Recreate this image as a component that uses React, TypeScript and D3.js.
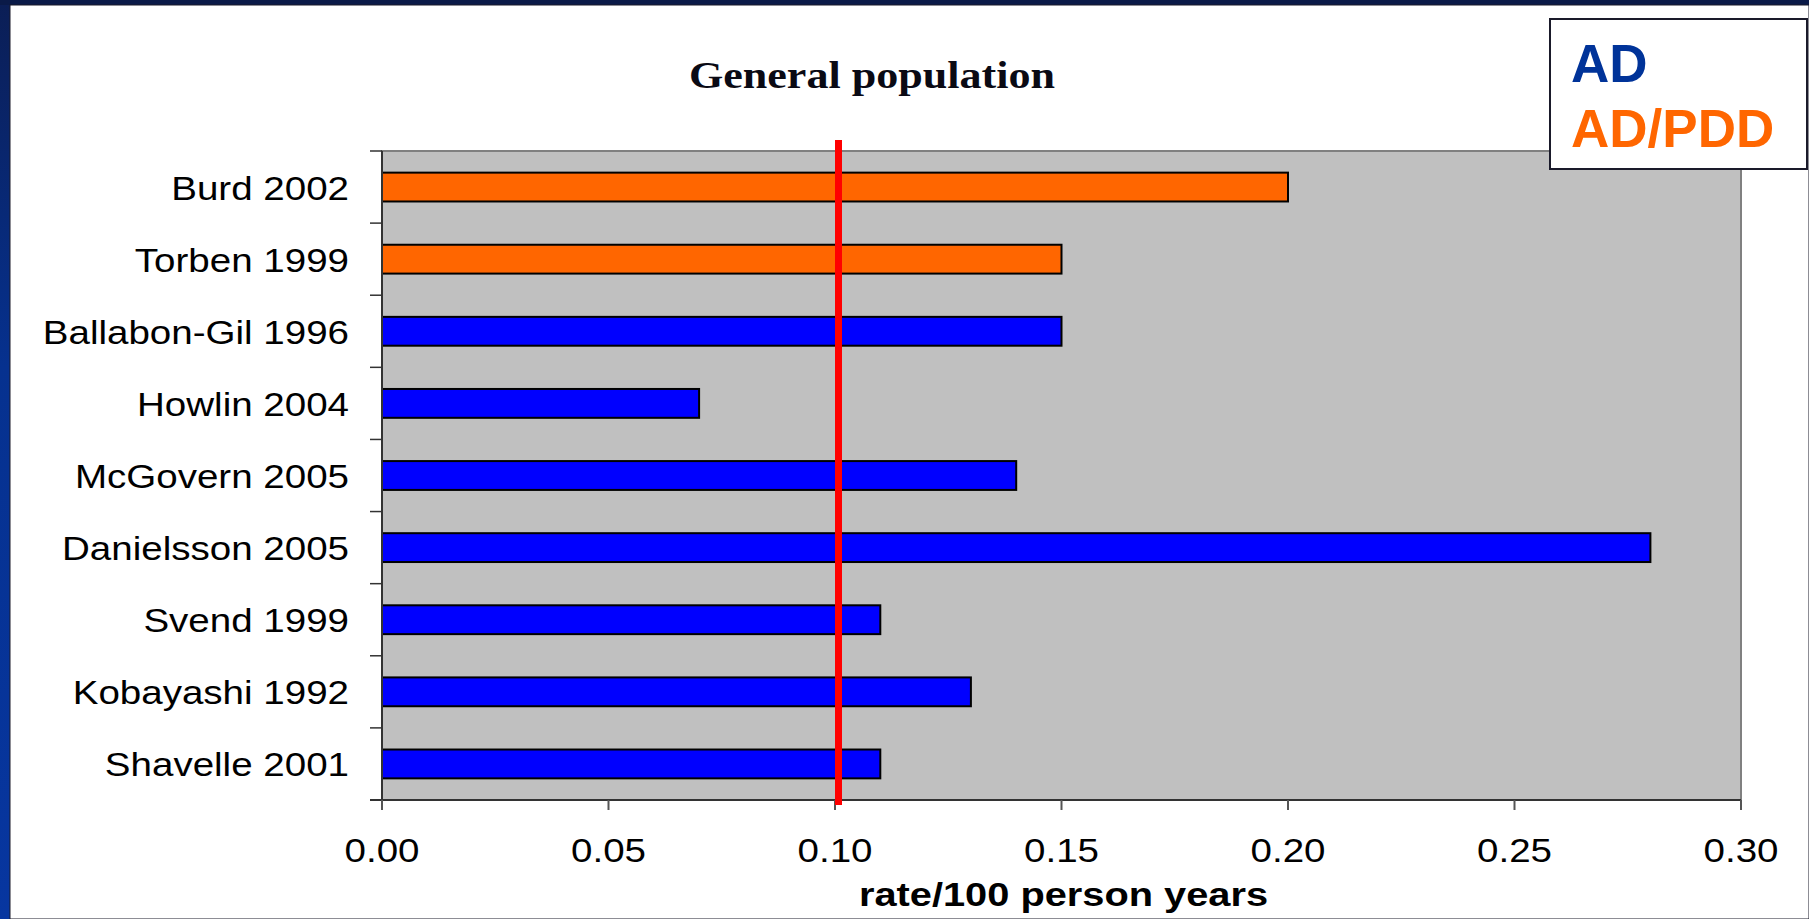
import React, { useEffect, useRef } from "react";
import * as d3 from "d3";

// Studies, top to bottom
const studies = [
  "Burd 2002",
  "Torben 1999",
  "Ballabon-Gil 1996",
  "Howlin 2004",
  "McGovern 2005",
  "Danielsson 2005",
  "Svend 1999",
  "Kobayashi 1992",
  "Shavelle 2001",
];
// rate per 100 person years
const rates = [0.2, 0.15, 0.15, 0.07, 0.14, 0.28, 0.11, 0.13, 0.11];
// diagnostic group of each study
const groups = ["AD/PDD", "AD/PDD", "AD", "AD", "AD", "AD", "AD", "AD", "AD"];
const xTicks = [0, 0.05, 0.1, 0.15, 0.2, 0.25, 0.3];
const referenceRate = 0.1;
const legendItems = ["AD", "AD/PDD"];

const barColor: Record<string, string> = { AD: "#0000ff", "AD/PDD": "#ff6600" };
const legendColor: Record<string, string> = { AD: "#003399", "AD/PDD": "#ff6600" };

const W = 1809;
const H = 919;
const plot = { left: 382, right: 1741, top: 151, bottom: 800 };

export default function App() {
  const ref = useRef<SVGSVGElement>(null);

  useEffect(() => {
    const svg = d3.select(ref.current);
    svg.selectAll("*").remove();

    // frame gradient
    const defs = svg.append("defs");
    const grad = defs
      .append("linearGradient")
      .attr("id", "frameGrad")
      .attr("x1", 0)
      .attr("y1", 0)
      .attr("x2", 0)
      .attr("y2", 1);
    grad.append("stop").attr("offset", "0%").attr("stop-color", "#0b1e55");
    grad.append("stop").attr("offset", "40%").attr("stop-color", "#06318f");
    grad.append("stop").attr("offset", "100%").attr("stop-color", "#0736a0");

    svg.append("rect").attr("width", W).attr("height", H).attr("fill", "url(#frameGrad)");
    svg.append("rect").attr("x", 0).attr("y", 0).attr("width", W).attr("height", 5).attr("fill", "#0a1a48");
    svg
      .append("rect")
      .attr("x", 10)
      .attr("y", 5)
      .attr("width", W - 10)
      .attr("height", H - 5)
      .attr("fill", "#ffffff")
      .attr("stroke", "#1a1a2a")
      .attr("stroke-width", 1);

    const x = d3.scaleLinear().domain([0, 0.3]).range([plot.left, plot.right]);
    const y = d3
      .scaleBand<string>()
      .domain(studies)
      .range([plot.top, plot.bottom])
      .paddingInner(0.6)
      .paddingOuter(0.3);

    // plot background
    svg
      .append("rect")
      .attr("x", plot.left)
      .attr("y", plot.top)
      .attr("width", plot.right - plot.left)
      .attr("height", plot.bottom - plot.top)
      .attr("fill", "#c0c0c0")
      .attr("stroke", "#808080")
      .attr("stroke-width", 2);

    // bars
    svg
      .append("g")
      .selectAll("rect")
      .data(studies)
      .join("rect")
      .attr("x", x(0))
      .attr("y", (d) => y(d)!)
      .attr("width", (_, i) => x(rates[i]) - x(0))
      .attr("height", y.bandwidth())
      .attr("fill", (_, i) => barColor[groups[i]])
      .attr("stroke", "#000")
      .attr("stroke-width", 2);

    // axes lines
    svg
      .append("line")
      .attr("x1", plot.left)
      .attr("x2", plot.left)
      .attr("y1", plot.top)
      .attr("y2", plot.bottom + 10)
      .attr("stroke", "#333")
      .attr("stroke-width", 2);
    svg
      .append("line")
      .attr("x1", plot.left - 12)
      .attr("x2", plot.right)
      .attr("y1", plot.bottom)
      .attr("y2", plot.bottom)
      .attr("stroke", "#333")
      .attr("stroke-width", 2);

    // category ticks at band boundaries
    const step = y.step();
    const boundaries = d3.range(studies.length + 1).map((i) => plot.top + i * step);
    svg
      .append("g")
      .selectAll("line")
      .data(boundaries)
      .join("line")
      .attr("x1", plot.left - 12)
      .attr("x2", plot.left)
      .attr("y1", (d) => d)
      .attr("y2", (d) => d)
      .attr("stroke", "#333")
      .attr("stroke-width", 1.5);

    // category labels
    svg
      .append("g")
      .selectAll("text")
      .data(studies)
      .join("text")
      .attr(
        "transform",
        (d) => `translate(349,${y(d)! + y.bandwidth() / 2 + 12.5}) scale(1.15,1)`
      )
      .attr("text-anchor", "end")
      .attr("font-family", "Liberation Sans, Arial, sans-serif")
      .attr("font-size", 33.5)
      .attr("fill", "#000")
      .text((d) => d);

    // x ticks and labels
    svg
      .append("g")
      .selectAll("line")
      .data(xTicks)
      .join("line")
      .attr("x1", (d) => x(d))
      .attr("x2", (d) => x(d))
      .attr("y1", plot.bottom)
      .attr("y2", plot.bottom + 10)
      .attr("stroke", "#555")
      .attr("stroke-width", 2);
    svg
      .append("g")
      .selectAll("text")
      .data(xTicks)
      .join("text")
      .attr("transform", (d) => `translate(${x(d)},862) scale(1.15,1)`)
      .attr("text-anchor", "middle")
      .attr("font-family", "Liberation Sans, Arial, sans-serif")
      .attr("font-size", 33.5)
      .attr("fill", "#000")
      .text((d) => d3.format(".2f")(d));

    // axis title
    svg
      .append("text")
      .attr("transform", `translate(${(plot.left + plot.right) / 2 + 2},906) scale(1.17,1)`)
      .attr("text-anchor", "middle")
      .attr("font-family", "Liberation Sans, Arial, sans-serif")
      .attr("font-weight", "bold")
      .attr("font-size", 34)
      .attr("fill", "#000")
      .text("rate/100 person years");

    // reference line
    svg
      .append("rect")
      .attr("x", x(referenceRate))
      .attr("y", 140)
      .attr("width", 7)
      .attr("height", 805 - 140)
      .attr("fill", "#ff0000");

    // chart title
    svg
      .append("text")
      .attr("transform", `translate(872,88) scale(1.16,1)`)
      .attr("text-anchor", "middle")
      .attr("font-family", "Liberation Serif, Times New Roman, serif")
      .attr("font-weight", "bold")
      .attr("font-size", 38)
      .attr("fill", "#0a0a14")
      .text("General population");

    // legend
    const lg = svg.append("g");
    lg.append("rect")
      .attr("x", 1550)
      .attr("y", 19)
      .attr("width", 257)
      .attr("height", 150)
      .attr("fill", "#fff")
      .attr("stroke", "#1a1a2a")
      .attr("stroke-width", 2);
    lg.selectAll("text")
      .data(legendItems)
      .join("text")
      .attr("x", 1571)
      .attr("y", (_, i) => 82 + i * 65)
      .attr("font-family", "Liberation Sans, Arial, sans-serif")
      .attr("font-weight", "bold")
      .attr("font-size", 53)
      .attr("fill", (d) => legendColor[d])
      .text((d) => d);
  }, []);

  return (
    <svg
      ref={ref}
      width={W}
      height={H}
      style={{ position: "absolute", left: 0, top: 0, display: "block" }}
    />
  );
}
